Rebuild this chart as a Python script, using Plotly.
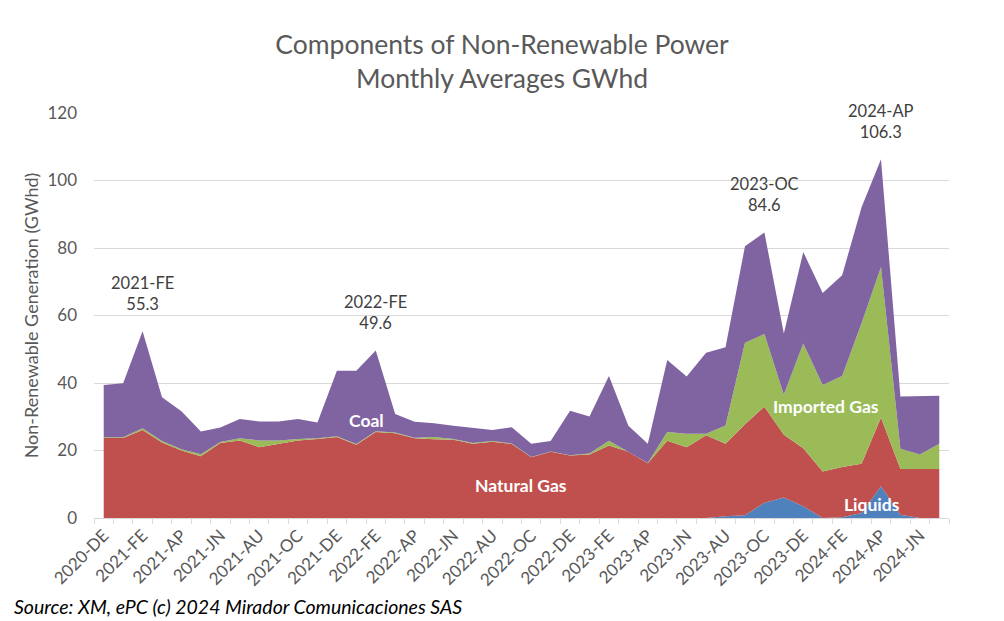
import plotly.graph_objects as go

categories = [
    "2020-DE",
    "2021-JA", "2021-FE", "2021-MR", "2021-AP", "2021-MY", "2021-JN",
    "2021-JL", "2021-AU", "2021-SE", "2021-OC", "2021-NO", "2021-DE",
    "2022-JA", "2022-FE", "2022-MR", "2022-AP", "2022-MY", "2022-JN",
    "2022-JL", "2022-AU", "2022-SE", "2022-OC", "2022-NO", "2022-DE",
    "2023-JA", "2023-FE", "2023-MR", "2023-AP", "2023-MY", "2023-JN",
    "2023-JL", "2023-AU", "2023-SE", "2023-OC", "2023-NO", "2023-DE",
    "2024-JA", "2024-FE", "2024-MR", "2024-AP", "2024-MY", "2024-JN",
    "2024-JL",
]

liquids = [
    0, 0, 0, 0, 0, 0, 0, 0, 0, 0, 0, 0, 0,
    0, 0, 0, 0, 0, 0, 0, 0, 0, 0, 0, 0,
    0, 0, 0, 0, 0, 0, 0, 0.5, 0.8, 4.5, 6.1, 3.5,
    0, 0.2, 1.5, 9.4, 1.0, 0, 0,
]
natural_gas = [
    23.7, 23.7, 26.1, 22.4, 20.0, 18.3, 22.2, 23.0, 21.0, 22.0, 23.0, 23.4, 24.0,
    21.7, 25.5, 25.1, 23.6, 23.3, 23.2, 22.0, 22.6, 21.9, 18.0, 19.6, 18.5,
    18.8, 21.5, 19.6, 16.2, 22.9, 21.0, 24.5, 21.5, 27.0, 28.5, 18.6, 17.2,
    13.8, 14.9, 14.6, 20.4, 13.5, 14.5, 14.5,
]
imported_gas = [
    0.2, 0.2, 0.5, 0.4, 0.4, 0.6, 0.3, 0.6, 2.0, 1.0, 0.4, 0.2, 0.2,
    0.2, 0.2, 0.2, 0.2, 0.7, 0.2, 0.2, 0.2, 0.2, 0.1, 0.1, 0.1,
    0.3, 1.4, 0.1, 0.1, 2.6, 4.0, 0.5, 5.4, 24.1, 21.5, 11.8, 31.0,
    25.6, 27.0, 41.6, 44.6, 6.0, 4.3, 7.5,
]
coal = [
    15.5, 16.0, 28.7, 13.0, 11.2, 6.7, 4.3, 5.7, 5.6, 5.6, 5.9, 4.7, 19.4,
    21.7, 23.9, 5.5, 4.7, 4.1, 3.9, 4.4, 3.3, 4.8, 3.9, 3.1, 13.2,
    11.0, 19.2, 7.6, 5.7, 21.3, 16.9, 24.0, 23.2, 28.6, 30.1, 18.2, 27.1,
    27.3, 29.8, 34.4, 31.9, 15.5, 17.4, 14.2,
]

series_names = ["Liquids", "Natural Gas", "Imported Gas", "Coal"]
series_colors = ["#4F81BD", "#C0504D", "#9BBB59", "#8064A2"]
series_values = [liquids, natural_gas, imported_gas, coal]

peak_labels = ["2021-FE", "2022-FE", "2023-OC", "2024-AP"]

# in-chart series labels: (text, category index, value)
series_label_pos = [
    ("Coal", 13.5, 28.8),
    ("Natural Gas", 21.45, 9.6),
    ("Imported Gas", 37.15, 33.1),
    ("Liquids", 39.55, 4.0),
]

FONT = "Lato"
GREY = "#595959"
GRID = "#D9D9D9"

totals = [sum(v) for v in zip(*series_values)]

fig = go.Figure()
for name, color, vals in zip(series_names, series_colors, series_values):
    fig.add_trace(go.Scatter(
        x=categories, y=vals, name=name, mode="lines",
        stackgroup="one", line=dict(width=0, color=color),
        fillcolor=color,
    ))

annotations = []
for lab in peak_labels:
    idx = categories.index(lab)
    annotations.append(dict(
        x=idx, y=totals[idx], xref="x", yref="y",
        text=f"{lab}<br>{totals[idx]:.1f}", showarrow=False,
        yanchor="middle", yshift=38,
        font=dict(family=FONT, size=16.5, color="#404040"),
    ))
for text, xi, yv in series_label_pos:
    annotations.append(dict(
        x=xi, y=yv, xref="x", yref="y", text=f"<b>{text}</b>",
        showarrow=False, font=dict(family=FONT, size=17.5, color="white"),
    ))

W, H = 1004, 621
L, R, T, B = 94, 55, 112.5, 102.5
pw, ph = W - L - R, H - T - B
# source note position in pixels, converted to paper coordinates
src_px, src_py = 12, 607
annotations.append(dict(
    x=(src_px - L) / pw, y=(H - B - src_py) / ph, xref="paper", yref="paper",
    text="<i>Source: XM, ePC (c) 2024 Mirador Comunicaciones SAS</i>",
    showarrow=False, xanchor="left", yanchor="middle",
    font=dict(family=FONT, size=19.5, color="black"),
))

ticktext = [c if i % 2 == 0 else "" for i, c in enumerate(categories)]

fig.update_layout(
    width=W, height=H,
    margin=dict(l=L, r=R, t=T, b=B),
    paper_bgcolor="white", plot_bgcolor="white",
    showlegend=False,
    font=dict(family=FONT, color=GREY),
    title=dict(
        text="Components of Non-Renewable Power<br>Monthly Averages GWhd",
        x=0.5, xref="container", xanchor="center",
        y=1 - 53.5 / H, yref="container", yanchor="middle",
        font=dict(family=FONT, size=26.5, color=GREY),
    ),
    xaxis=dict(
        type="category", range=[-0.5, len(categories) - 0.5],
        tickvals=categories, ticktext=ticktext, tickangle=-45,
        tickson="boundaries", ticks="outside", ticklen=5, tickcolor=GRID,
        showline=True, linecolor=GRID, linewidth=1,
        showgrid=False, zeroline=False, automargin=False,
        tickfont=dict(family=FONT, size=17, color=GREY),
    ),
    yaxis=dict(
        range=[0, 120], dtick=20, showgrid=True, gridcolor=GRID, gridwidth=1,
        zeroline=False, showline=False, ticks="", automargin=False,
        ticklabelstandoff=16,
        tickfont=dict(family=FONT, size=17, color=GREY),
        title=dict(text="Non-Renewable Generation (GWhd)", standoff=4,
                   font=dict(family=FONT, size=18, color=GREY)),
    ),
    annotations=annotations,
)

fig.write_html(
    "out.html",
    config={"displayModeBar": False},
    post_script="document.body.style.margin='0';document.body.style.overflow='hidden';",
)
